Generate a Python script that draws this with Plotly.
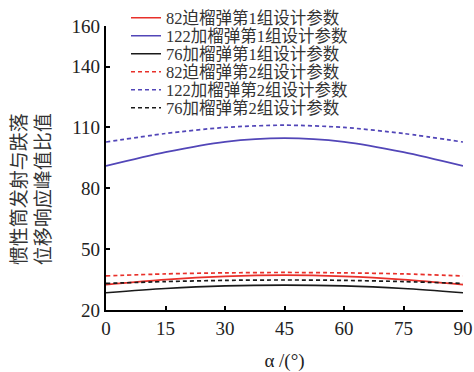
import plotly.graph_objects as go

# Launch angle (degrees)
alpha = [0, 15, 30, 45, 60, 75, 90]

# Peak displacement-ratio curves for each projectile / parameter set
mortar82_set1 = [32.5, 35.0, 36.6, 37.2, 36.6, 35.0, 32.5]
gun122_set1 = [91.0, 97.8, 102.9, 104.7, 102.9, 97.8, 91.0]
gun76_set1 = [28.5, 30.6, 31.9, 32.3, 31.9, 30.6, 28.5]
mortar82_set2 = [36.8, 37.8, 38.3, 38.5, 38.3, 37.8, 36.8]
gun122_set2 = [102.8, 107.0, 110.0, 111.1, 110.0, 107.0, 102.8]
gun76_set2 = [33.1, 34.0, 34.6, 34.8, 34.6, 34.0, 33.1]

series_names = [
    "82迫榴弹第1组设计参数",
    "122加榴弹第1组设计参数",
    "76加榴弹第1组设计参数",
    "82迫榴弹第2组设计参数",
    "122加榴弹第2组设计参数",
    "76加榴弹第2组设计参数",
]
series_values = [mortar82_set1, gun122_set1, gun76_set1,
                 mortar82_set2, gun122_set2, gun76_set2]
series_colors = ["#e8302a", "#5246b8", "#1a1a1a", "#e8302a", "#5246b8", "#1a1a1a"]
series_dash = ["solid", "solid", "solid", "4px,3px", "4px,3px", "4px,3px"]

y_ticks = [20, 50, 80, 110, 140, 160]
x_ticks = [0, 15, 30, 45, 60, 75, 90]

SERIF = "Liberation Serif, Noto Sans CJK SC, serif"
W, H = 474, 372
M_L, M_R, M_T, M_B = 106, 11, 26, 62

fig = go.Figure()
legend_keys = ["legend", "legend2", "legend3", "legend4", "legend5", "legend6"]
for name, vals, color, dash, lg in zip(series_names, series_values, series_colors,
                                       series_dash, legend_keys):
    fig.add_trace(go.Scatter(
        x=alpha, y=vals, name=name, mode="lines", legend=lg, showlegend=True,
        line=dict(color=color, width=1.7, dash=dash, shape="spline", smoothing=0.8),
    ))

# One single-entry legend per series so the rows sit on an 18 px pitch
legend_layout = {}
for i, lg in enumerate(legend_keys):
    row_px = 18 + 18 * i
    legend_layout[lg] = dict(
        xref="container", yref="container",
        x=126 / W, y=1 - row_px / H,
        xanchor="left", yanchor="middle",
        bgcolor="rgba(0,0,0,0)", borderwidth=0,
        font=dict(size=16.5, family=SERIF, color="#333"),
        itemwidth=30, visible=True,
    )

fig.update_layout(
    width=W, height=H,
    margin=dict(l=M_L, r=M_R, t=M_T, b=M_B, autoexpand=False),
    paper_bgcolor="white", plot_bgcolor="white",
    font=dict(family=SERIF, color="#222"),
    **legend_layout,
    xaxis=dict(
        range=[0, 90], tickvals=x_ticks, ticktext=[str(v) for v in x_ticks],
        showgrid=False, zeroline=False, automargin=False,
        showline=True, linecolor="black", linewidth=2.2,
        ticks="inside", ticklen=4, tickwidth=1.5, tickcolor="black",
        tickfont=dict(size=19, family=SERIF, color="#222"),
        title=dict(text="α /(°)", font=dict(size=19, family=SERIF, color="#222"), standoff=28),
    ),
    yaxis=dict(
        range=[20, 160], tickvals=y_ticks, ticktext=[str(v) for v in y_ticks],
        showgrid=False, zeroline=False, automargin=False,
        showline=True, linecolor="black", linewidth=2.2,
        ticks="inside", ticklen=4, tickwidth=1.5, tickcolor="black",
        tickfont=dict(size=19, family=SERIF, color="#222"),
    ),
    annotations=[
        dict(
            text="惯性筒发射与跌落<br>位移响应峰值比值",
            xref="paper", yref="paper", x=-0.213, y=0.425,
            xanchor="center", yanchor="middle", textangle=-90, showarrow=False,
            font=dict(size=19, family="Noto Sans CJK SC, serif", color="#333"),
        )
    ],
)

fig.write_html("out.html")
